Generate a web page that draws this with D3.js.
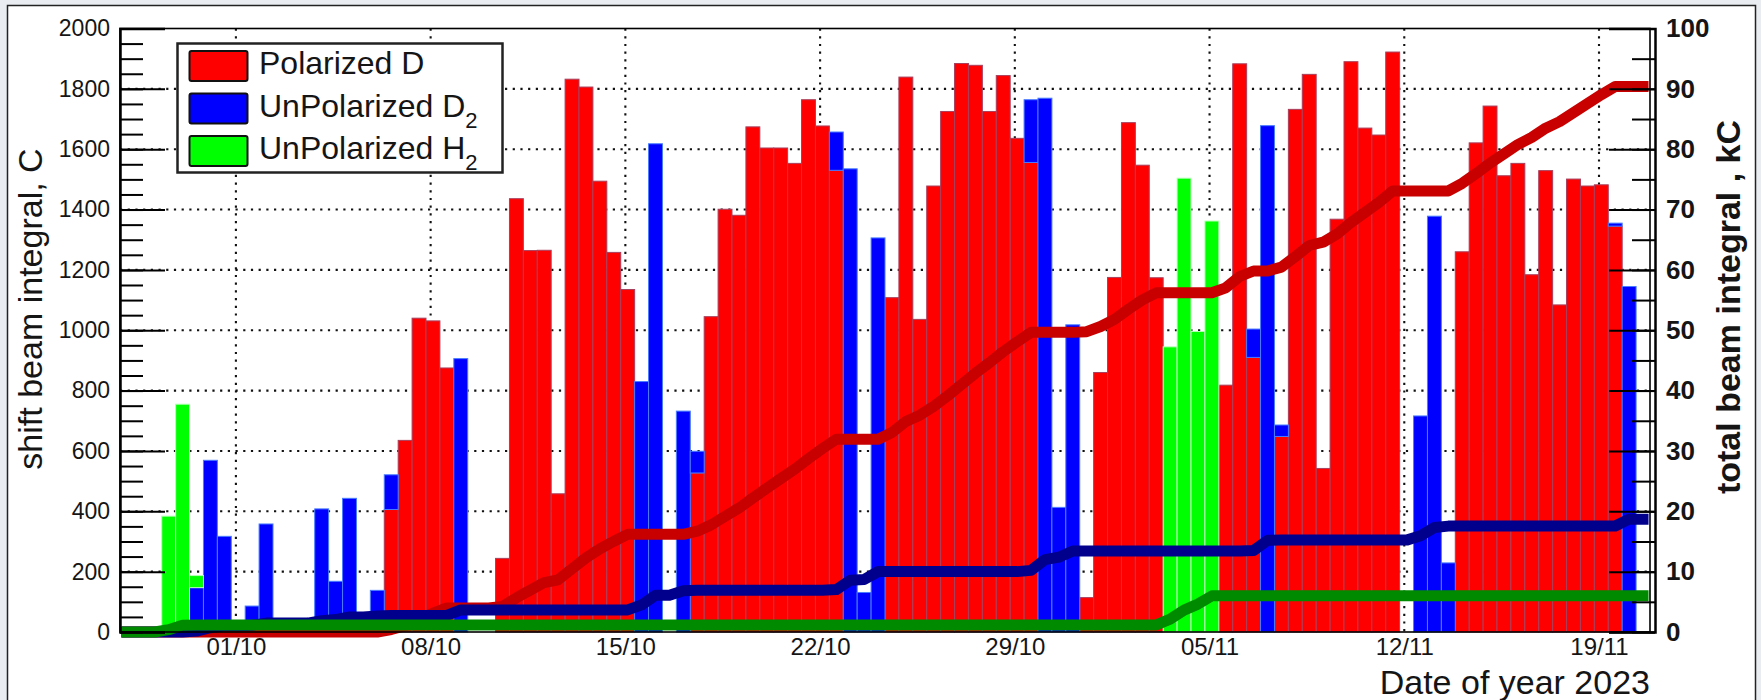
<!doctype html>
<html lang="en">
<head>
  <meta charset="utf-8">
  <title>Beam integral per shift</title>
  <style>
    body { margin: 0; background: #e9ecf0; }
    svg { display: block; font-family: "Liberation Sans", Arial, Helvetica, sans-serif; }
    .grid line { stroke: #111; stroke-width: 2.1; stroke-dasharray: 2.2 5.5; }
    .tick text { fill: #151515; }
  </style>
</head>
<body>
  <div id="chart"></div>
  <script src="https://cdn.jsdelivr.net/npm/d3@7"></script>
  <script>
// 12 h shifts (08-20, 20-08) starting 26/09/2023 20:00, 110 shifts in the plot
var firstShift = "2023-09-26T20:00:00Z";
var shiftHours = 12;

// beam integral per shift, C (stacked: polarized D at bottom, then D2, then H2)
var polD = [
  0, 0, 0, 0, 0, 0, 0, 0, 0, 0,
  0, 0, 0, 0, 0, 0, 0, 0, 0, 406,
  635, 1040, 1031, 875, 0, 0, 0, 244, 1436, 1264,
  1265, 458, 1832, 1806, 1494, 1258, 1135, 0, 0, 0,
  0, 527, 1045, 1401, 1381, 1674, 1604, 1604, 1553, 1764,
  1677, 1530, 0, 0, 0, 1108, 1839, 1036, 1478, 1725,
  1884, 1878, 1725, 1844, 1636, 1556, 0, 0, 0, 114,
  860, 1175, 1688, 1547, 1174, 0, 0, 0, 0, 818,
  1883, 910, 0, 648, 1732, 1848, 542, 1368, 1890, 1670,
  1647, 1922, 0, 0, 0, 0, 1260, 1621, 1743, 1512,
  1553, 1184, 1529, 1084, 1501, 1478, 1482, 1345, 0, 0
];
var unpolD2 = [
  0, 0, 0, 0, 0, 147, 569, 317, 0, 86,
  358, 0, 0, 0, 408, 168, 443, 0, 138, 115,
  0, 0, 0, 0, 906, 0, 0, 0, 0, 0,
  0, 0, 0, 0, 0, 0, 0, 830, 1618, 0,
  732, 72, 0, 0, 0, 0, 0, 0, 0, 0,
  0, 127, 1535, 131, 1306, 0, 0, 0, 0, 0,
  0, 0, 0, 0, 0, 208, 1769, 413, 1018, 0,
  0, 0, 0, 0, 0, 0, 0, 0, 0, 0,
  0, 94, 1678, 38, 0, 0, 0, 0, 0, 0,
  0, 0, 0, 716, 1378, 229, 0, 0, 0, 0,
  0, 0, 0, 0, 0, 0, 0, 10, 1145, 0
];
var unpolH2 = [
  0, 0, 0, 384, 755, 40, 0, 0, 0, 0,
  0, 0, 0, 0, 0, 0, 0, 0, 0, 0,
  0, 0, 0, 0, 0, 0, 0, 0, 0, 0,
  0, 0, 0, 0, 0, 0, 0, 0, 0, 0,
  0, 0, 0, 0, 0, 0, 0, 0, 0, 0,
  0, 0, 0, 0, 0, 0, 0, 0, 0, 0,
  0, 0, 0, 0, 0, 0, 0, 0, 0, 0,
  0, 0, 0, 0, 0, 945, 1504, 996, 1362, 0,
  0, 0, 0, 0, 0, 0, 0, 0, 0, 0,
  0, 0, 0, 0, 0, 0, 0, 0, 0, 0,
  0, 0, 0, 0, 0, 0, 0, 0, 0, 0
];

var weekTicks = ["2023-10-01", "2023-10-08", "2023-10-15", "2023-10-22",
                 "2023-10-29", "2023-11-05", "2023-11-12", "2023-11-19"];
var leftTicks = [0, 200, 400, 600, 800, 1000, 1200, 1400, 1600, 1800, 2000];
var rightTicks = [0, 10, 20, 30, 40, 50, 60, 70, 80, 90, 100];

var series = [
  { key: "polD",    label: "Polarized D",     sub: "",  fill: "#ff0000", edge: "#a8405c", line: "#c80000" },
  { key: "unpolD2", label: "UnPolarized D",   sub: "2", fill: "#0000ff", edge: "#4a7cff", line: "#00008c" },
  { key: "unpolH2", label: "UnPolarized H",   sub: "2", fill: "#00ff00", edge: "#b8ffb8", line: "#008a00" }
];

(function(){

  var width = 1761, height = 700;
  var left = 120, right = 1650, top = 28.5, bottom = 632;

  var t0 = new Date(firstShift);
  var rows = polD.map(function(v, i) {
    return {
      start: d3.utcHour.offset(t0, i * shiftHours),
      end: d3.utcHour.offset(t0, (i + 1) * shiftHours),
      polD: v, unpolD2: unpolD2[i], unpolH2: unpolH2[i]
    };
  });

  var x = d3.scaleUtc()
      .domain([t0, d3.utcHour.offset(t0, rows.length * shiftHours)])
      .range([left, right]);
  var y = d3.scaleLinear().domain([0, 2000]).range([bottom, top]);
  var yR = d3.scaleLinear().domain([0, 100]).range([bottom, top]);

  var svg = d3.select("#chart").append("svg")
      .attr("width", width)
      .attr("height", height);

  // slide background + white panel
  svg.append("rect").attr("width", width).attr("height", height).attr("fill", "#e9ecf0");
  svg.append("rect")
      .attr("x", 7.5).attr("y", 5.5)
      .attr("width", 1748).attr("height", 720)
      .attr("fill", "#fff").attr("stroke", "#222").attr("stroke-width", 1.5);

  // dotted grid
  var grid = svg.append("g").attr("class", "grid");
  grid.selectAll("line.v").data(weekTicks).enter().append("line")
      .attr("x1", function(d) { return x(new Date(d)); })
      .attr("x2", function(d) { return x(new Date(d)); })
      .attr("y1", top).attr("y2", bottom);
  grid.selectAll("line.h").data(leftTicks.slice(1, -1)).enter().append("line")
      .attr("x1", left).attr("x2", right)
      .attr("y1", function(d) { return y(d); })
      .attr("y2", function(d) { return y(d); });

  // stacked bars
  var stacked = d3.stack().keys(series.map(function(s) { return s.key; }))(rows);
  stacked.forEach(function(layer, k) {
    svg.append("g")
      .selectAll("rect")
      .data(layer.filter(function(d) { return d[1] > d[0]; }))
      .enter().append("rect")
        .attr("x", function(d) { return x(d.data.start); })
        .attr("width", function(d) { return x(d.data.end) - x(d.data.start); })
        .attr("y", function(d) { return y(d[1]); })
        .attr("height", function(d) { return y(d[0]) - y(d[1]); })
        .attr("fill", series[k].fill)
        .attr("stroke", series[k].edge)
        .attr("stroke-width", 1);
  });

  // cumulative totals in kC, drawn through shift centres
  series.forEach(function(s) {
    var cum = d3.cumsum(rows, function(d) { return d[s.key]; });
    var line = d3.line()
        .x(function(d, i) { return x(new Date((+rows[i].start + +rows[i].end) / 2)); })
        .y(function(d) { return yR(d / 1000); });
    svg.append("path")
        .datum(Array.from(cum))
        .attr("d", line)
        .attr("fill", "none")
        .attr("stroke", s.line)
        .attr("stroke-width", 11)
        .attr("stroke-linejoin", "round")
        .attr("stroke-linecap", "square");
  });

  // frame
  svg.append("rect")
      .attr("x", left).attr("y", top)
      .attr("width", right - left).attr("height", bottom - top)
      .attr("fill", "none").attr("stroke", "#000").attr("stroke-width", 1.6);

  // left axis: minor + major ticks pointing inward
  var minorL = d3.range(0, 2001, 50);
  svg.append("g").attr("transform", "translate(" + left + ",0)")
      .call(d3.axisLeft(y).tickValues(minorL).tickSize(-23).tickFormat(""))
      .call(function(g) { g.selectAll("line").attr("stroke", "#000").attr("stroke-width", 2); g.select(".domain").remove(); });
  svg.append("g").attr("transform", "translate(" + left + ",0)")
      .call(d3.axisLeft(y).tickValues(leftTicks).tickSize(-45).tickPadding(10).tickFormat(d3.format("d")))
      .call(function(g) {
        g.select(".domain").attr("stroke", "#000").attr("stroke-width", 2.5);
        g.selectAll("line").attr("stroke", "#000").attr("stroke-width", 2);
        g.selectAll("text").attr("font-size", 23);
      });

  // right axis (kC)
  var axisX = right + 5;
  svg.append("g").attr("transform", "translate(" + axisX + ",0)")
      .call(d3.axisRight(yR).tickValues(d3.range(0, 101, 5)).tickSize(-23).tickFormat(""))
      .call(function(g) { g.selectAll("line").attr("stroke", "#000").attr("stroke-width", 2); g.select(".domain").remove(); });
  svg.append("g").attr("transform", "translate(" + axisX + ",0)")
      .call(d3.axisRight(yR).tickValues(rightTicks).tickSize(-46).tickPadding(11).tickFormat(d3.format("d")))
      .call(function(g) {
        g.select(".domain").attr("stroke", "#000").attr("stroke-width", 2.5);
        g.selectAll("line").attr("stroke", "#000").attr("stroke-width", 2);
        g.selectAll("text").attr("font-size", 26).attr("font-weight", "bold");
      });

  // date axis
  svg.append("g").attr("transform", "translate(0," + bottom + ")")
      .call(d3.axisBottom(x).tickValues(weekTicks.map(function(d) { return new Date(d); }))
            .tickSize(0).tickPadding(6).tickFormat(d3.utcFormat("%d/%m")))
      .call(function(g) {
        g.select(".domain").remove();
        g.selectAll("text").attr("font-size", 24);
      });

  // axis titles
  svg.append("text")
      .attr("transform", "translate(42,309) rotate(-90)")
      .attr("text-anchor", "middle").attr("font-size", 34).attr("fill", "#151515")
      .text("shift beam integral, C");
  svg.append("text")
      .attr("transform", "translate(1740,307) rotate(-90)")
      .attr("text-anchor", "middle").attr("font-size", 34).attr("font-weight", "bold").attr("fill", "#151515")
      .text("total beam integral , kC");
  svg.append("text")
      .attr("x", right).attr("y", 694)
      .attr("text-anchor", "end").attr("font-size", 34).attr("fill", "#151515")
      .text("Date of year 2023");

  // legend
  var legend = svg.append("g");
  legend.append("rect")
      .attr("x", 177.5).attr("y", 43.5).attr("width", 325).attr("height", 129)
      .attr("fill", "#fff").attr("stroke", "#222").attr("stroke-width", 2.5);
  var item = legend.selectAll("g.item").data(series).enter().append("g")
      .attr("transform", function(d, i) { return "translate(0," + (i * 42.5) + ")"; });
  item.append("rect")
      .attr("x", 189.5).attr("y", 51).attr("width", 58).attr("height", 30).attr("rx", 2)
      .attr("fill", function(d) { return d.fill; })
      .attr("stroke", "#111").attr("stroke-width", 2);
  var lt = item.append("text")
      .attr("x", 259).attr("y", 74)
      .attr("font-size", 32).attr("fill", "#151515");
  lt.append("tspan").text(function(d) { return d.label; });
  lt.append("tspan")
      .attr("dy", 11).attr("font-size", 22)
      .text(function(d) { return d.sub; });

})();
  </script>
</body>
</html>
